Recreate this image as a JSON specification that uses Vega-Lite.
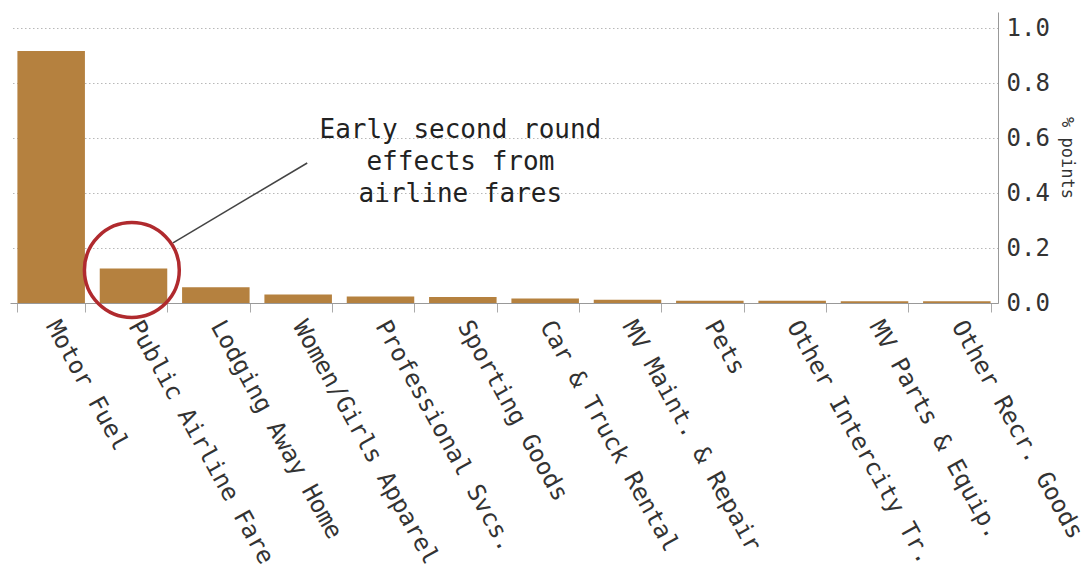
{
  "$schema": "https://vega.github.io/schema/vega-lite/v6.json",
  "width": 988,
  "height": 291,
  "autosize": {"type": "none"},
  "padding": {"left": 10, "top": 12, "right": 94, "bottom": 276},
  "background": "white",
  "config": {
    "view": {"stroke": null},
    "font": "DejaVu Sans Mono"
  },
  "datasets": {
    "bars": [
      {"category": "Motor Fuel", "value": 0.918},
      {"category": "Public Airline Fare", "value": 0.126},
      {"category": "Lodging Away Home", "value": 0.057},
      {"category": "Women/Girls Apparel", "value": 0.031},
      {"category": "Professional Svcs.", "value": 0.024},
      {"category": "Sporting Goods", "value": 0.022},
      {"category": "Car & Truck Rental", "value": 0.016},
      {"category": "MV Maint. & Repair", "value": 0.012},
      {"category": "Pets", "value": 0.008},
      {"category": "Other Intercity Tr.", "value": 0.008},
      {"category": "MV Parts & Equip.", "value": 0.006},
      {"category": "Other Recr. Goods", "value": 0.006}
    ],
    "circle": [{"x": 1.48, "y": 0.12}],
    "pointer": [
      {"x": 1.98, "y": 0.219, "order": 1},
      {"x": 3.61, "y": 0.51, "order": 2}
    ],
    "note": [{"x": 5.47, "y": 0.63, "label": ["Early second round", "effects from", "airline fares"]}]
  },
  "layer": [
    {
      "data": {"name": "bars"},
      "mark": {"type": "bar", "color": "#b5813f"},
      "encoding": {
        "x": {
          "field": "category",
          "type": "nominal",
          "sort": null,
          "scale": {"paddingInner": 0.18, "paddingOuter": 0.09},
          "axis": {
            "title": null,
            "labelAngle": 61,
            "labelAlign": "left",
            "labelBaseline": "middle",
            "labelFontSize": 24,
            "labelColor": "#333333",
            "labelPadding": 10,
            "labelOverlap": false,
            "labelLimit": 0,
            "tickBand": "extent",
            "tickSize": 9,
            "tickColor": "#aaaaaa",
            "domainColor": "#999999",
            "grid": false
          }
        },
        "y": {
          "field": "value",
          "type": "quantitative",
          "scale": {"domain": [0, 1.06], "nice": false},
          "axis": {
            "orient": "right",
            "title": "% points",
            "titleFontSize": 17,
            "titleFontWeight": "normal",
            "titleColor": "#333333",
            "titlePadding": 8,
            "values": [0, 0.1, 0.2, 0.3, 0.4, 0.5, 0.6, 0.7, 0.8, 0.9, 1.0],
            "labelExpr": "round(datum.value * 10) % 2 == 0 ? format(datum.value, '.1f') : ''",
            "labelFontSize": 24,
            "labelColor": "#333333",
            "labelPadding": 8,
            "ticks": false,
            "domainColor": "#999999",
            "grid": true,
            "gridColor": "#b8b8b8",
            "gridDash": [1.5, 2.5],
            "gridWidth": 1
          }
        }
      }
    },
    {
      "data": {"name": "pointer"},
      "mark": {"type": "line", "color": "#444444", "strokeWidth": 1.5},
      "encoding": {
        "x": {"field": "x", "type": "quantitative", "scale": {"domain": [0, 12], "nice": false, "zero": false}, "axis": null},
        "y": {"field": "y", "type": "quantitative"},
        "order": {"field": "order"}
      }
    },
    {
      "data": {"name": "circle"},
      "mark": {"type": "point", "shape": "circle", "filled": false, "size": 9000, "stroke": "#b02a2e", "strokeWidth": 3.5, "opacity": 1},
      "encoding": {
        "x": {"field": "x", "type": "quantitative", "scale": {"domain": [0, 12], "nice": false, "zero": false}, "axis": null},
        "y": {"field": "y", "type": "quantitative"}
      }
    },
    {
      "data": {"name": "note"},
      "mark": {"type": "text", "fontSize": 26, "color": "#222222", "align": "center", "baseline": "middle", "lineHeight": 32},
      "encoding": {
        "x": {"field": "x", "type": "quantitative", "scale": {"domain": [0, 12], "nice": false, "zero": false}, "axis": null},
        "y": {"field": "y", "type": "quantitative"},
        "text": {"field": "label"}
      }
    }
  ],
  "resolve": {"scale": {"x": "independent"}}
}
